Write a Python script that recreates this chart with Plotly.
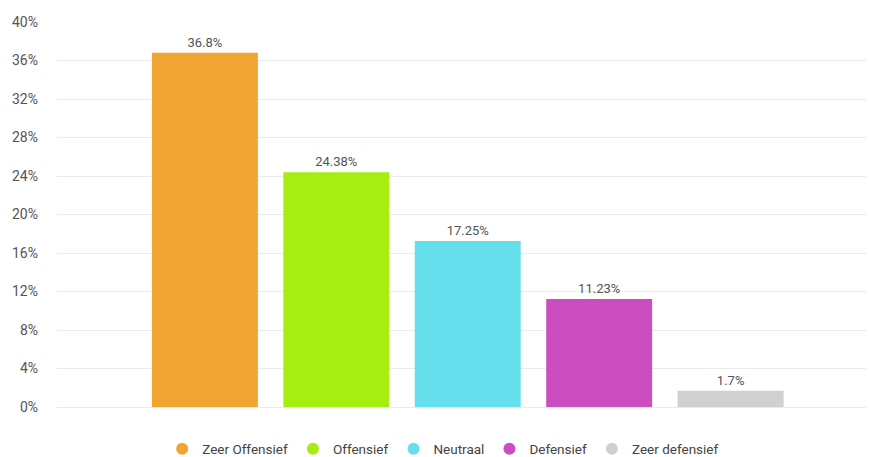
import plotly.graph_objects as go

categories = ["Zeer Offensief", "Offensief", "Neutraal", "Defensief", "Zeer defensief"]
values = [36.8, 24.38, 17.25, 11.23, 1.7]
labels = ["36.8%", "24.38%", "17.25%", "11.23%", "1.7%"]
colors = ["#F0A532", "#A6EE12", "#66DFEC", "#CB4EC0", "#D0D0D0"]
y_ticks = list(range(0, 41, 4))

fig = go.Figure()
for i, (c, v, t, col) in enumerate(zip(categories, values, labels, colors)):
    fig.add_trace(go.Bar(
        x=[i], y=[v], text=[t], textposition="outside", cliponaxis=False,
        marker=dict(color=col, line=dict(width=0)), width=0.806,
        textfont=dict(family="Roboto", size=13, color="#555555"),
        showlegend=False, hoverinfo="skip",
    ))
for c, col in zip(categories, colors):
    fig.add_trace(go.Scatter(
        x=[None], y=[None], mode="markers", name=c,
        marker=dict(color=col, size=14, symbol="circle"),
    ))

fig.update_layout(
    width=869, height=457,
    margin=dict(l=57, r=3, t=22, b=50),
    paper_bgcolor="white", plot_bgcolor="white",
    barmode="overlay",
    font=dict(family="Roboto", color="#555555"),
    xaxis=dict(range=[-1.125, 5.03], showticklabels=False, showgrid=False,
               zeroline=False, showline=False, fixedrange=True),
    yaxis=dict(range=[0, 40], tickvals=y_ticks, ticktext=[f"{v}%" for v in y_ticks],
               showgrid=True, gridcolor="#EBEBEB", gridwidth=1.3,
               zeroline=True, zerolinecolor="#EBEBEB", zerolinewidth=1.3,
               showline=False, ticks="", ticklabelstandoff=18,
               tickfont=dict(family="Roboto", size=14, color="#555555")),
    legend=dict(orientation="h", x=0.51, xanchor="center", xref="container",
                y=1 - 449 / 457, yanchor="middle", yref="container",
                font=dict(family="Roboto", size=13.5, color="#444444"),
                itemsizing="constant"),
)

fig.write_html("out.html")
